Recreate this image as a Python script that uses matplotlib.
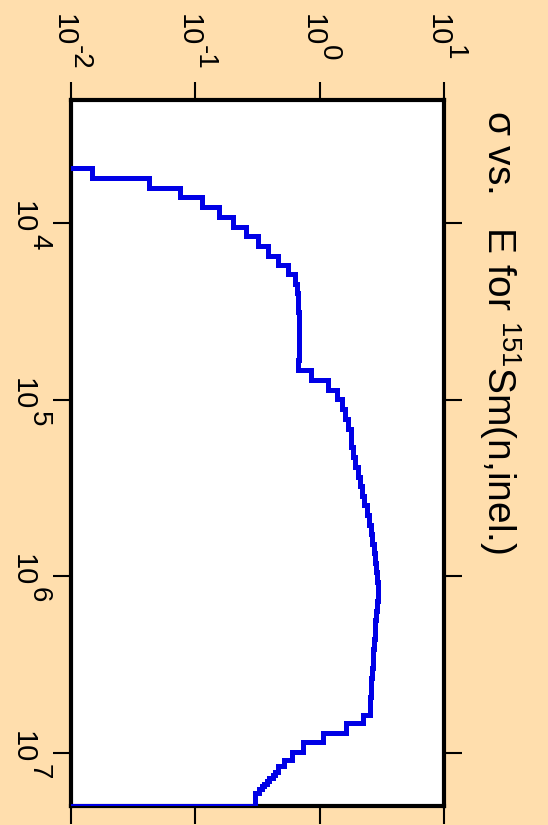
import matplotlib
matplotlib.use('Agg')
import matplotlib.pyplot as plt
import numpy as np

# Group boundaries in incident energy (eV)
E_edges = [4890, 5570, 6300, 7100, 8090, 9180, 10450, 11800, 13440, 15240,
           17200, 19420, 22030, 24960, 28280, 32030, 36290, 41130, 46600, 52800,
           59820, 67780, 77090, 87480, 98700, 112400, 128000, 145800, 164400, 185300,
           211000, 240300, 272300, 309000, 350100, 396600, 449300, 509200, 576800, 653600,
           740400, 838800, 950600, 1.077e6, 1.220e6, 1.382e6, 1.566e6, 1.775e6, 2.011e6, 2.278e6,
           2.582e6, 2.925e6, 3.314e6, 3.755e6, 4.254e6, 4.821e6, 5.462e6, 6.076e6, 6.768e6, 7.709e6,
           8.711e6, 9.872e6, 1.091e7, 1.190e7, 1.287e7, 1.335e7, 1.379e7, 1.434e7, 1.491e7, 1.550e7,
           1.612e7, 1.683e7, 2.0e7]

# Cross section (barns) in each group
sigma = [0.01475, 0.0428, 0.0755, 0.1128, 0.1553, 0.2023, 0.2559, 0.3177, 0.3865, 0.4651,
         0.5597, 0.6331, 0.6513, 0.6634, 0.6733, 0.6795, 0.6845, 0.6858, 0.6845, 0.6795,
         0.6733, 0.8466, 1.172, 1.385, 1.502, 1.597, 1.697, 1.768, 1.784, 1.862,
         1.921, 2.012, 2.088, 2.187, 2.269, 2.376, 2.466, 2.559, 2.631, 2.705,
         2.781, 2.849, 2.896, 2.923, 2.912, 2.874, 2.832, 2.796, 2.761, 2.725,
         2.690, 2.656, 2.621, 2.593, 2.564, 2.535, 2.512, 2.240, 1.627, 1.069,
         0.7302, 0.5959, 0.5169, 0.4651, 0.4375, 0.4193, 0.3937, 0.3752, 0.3589, 0.3420,
         0.3272, 0.3022]

sigma_ticks = [1e-2, 1e-1, 1e0, 1e1]
sigma_exps = ['-2', '-1', '0', '1']
energy_ticks = [1e4, 1e5, 1e6, 1e7]
energy_exps = ['4', '5', '6', '7']
title = r'σ vs.   E for $^{151}$Sm(n,inel.)'

plt.rcParams['font.family'] = ['Liberation Sans', 'DejaVu Sans']
plt.rcParams['mathtext.fontset'] = 'custom'
plt.rcParams['mathtext.rm'] = 'Liberation Sans'
plt.rcParams['mathtext.it'] = 'Liberation Sans:italic'
plt.rcParams['mathtext.bf'] = 'Liberation Sans:bold'

fig = plt.figure(figsize=(5.48, 8.25), dpi=100, facecolor='#ffdead')
ax = fig.add_axes([0.129, 0.023, 0.682, 0.856])
ax.set_facecolor('white')

# the chart is turned on its side: sigma runs across, energy runs down
E = np.asarray(E_edges)
s = np.asarray(sigma)
xs = np.concatenate([[1e-4], np.repeat(s, 2), [1e-4]])
ys = np.concatenate([[E[0]], np.column_stack([E[:-1], E[1:]]).ravel(), [E[-1]]])
ax.plot(xs, ys, color='#0000e6', lw=3.6, zorder=3,
        solid_joinstyle='miter', solid_capstyle='butt')

ax.set_xscale('log')
ax.set_yscale('log')
ax.set_xlim(1e-2, 1e1)
ax.set_ylim(2e7, 2e3)
ax.set_xticks(sigma_ticks)
ax.set_yticks(energy_ticks)
ax.minorticks_off()

ax.tick_params(which='major', direction='out', length=13, width=1.5,
               top=True, bottom=True, left=True, right=True,
               labeltop=False, labelbottom=False, labelleft=False)

for sp in ax.spines.values():
    sp.set_linewidth(3)

# tick labels written as "10" plus a raised exponent of nearly the same size
lab = dict(rotation=-90, rotation_mode='anchor', ha='left', va='baseline',
           textcoords='offset pixels', annotation_clip=False)
for t, e in zip(sigma_ticks, sigma_exps):
    ax.annotate('10', xy=(t, 1), xycoords=('data', 'axes fraction'),
                xytext=(-15, 86), fontsize=21, **lab)
    ax.annotate(e, xy=(t, 1), xycoords=('data', 'axes fraction'),
                xytext=(2.5, 55), fontsize=20, **lab)
for t, e in zip(energy_ticks, energy_exps):
    ax.annotate('10', xy=(0, t), xycoords=('axes fraction', 'data'),
                xytext=(-55.7, 22), fontsize=21, **lab)
    ax.annotate(e, xy=(0, t), xycoords=('axes fraction', 'data'),
                xytext=(-38.7, -11), fontsize=20, **lab)

fig.text(0.870, 0.8667, title, rotation=-90, ha='left', va='top', fontsize=28)

fig.savefig('out.png', dpi=100, facecolor=fig.get_facecolor())
